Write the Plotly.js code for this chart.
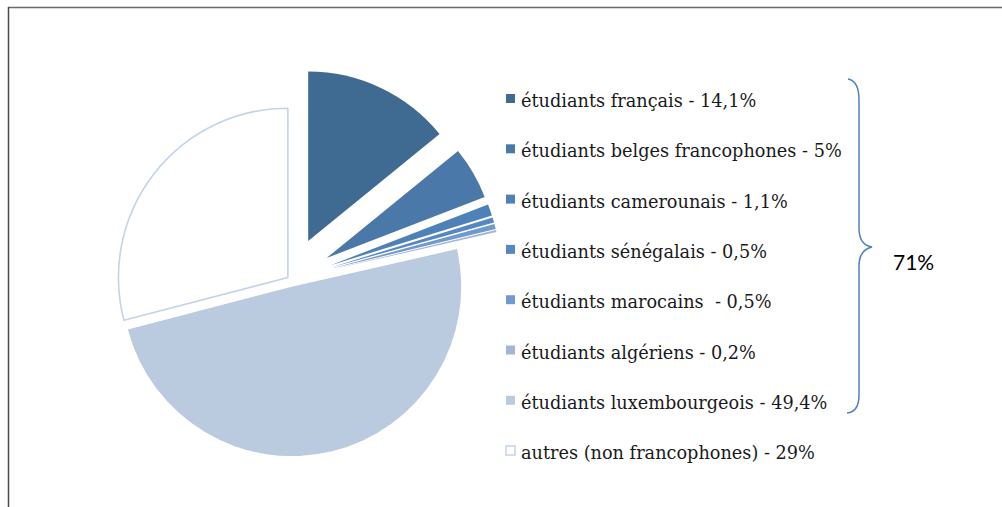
<!DOCTYPE html>
<html>
<head>
<meta charset="utf-8">
<script src="https://cdn.plot.ly/plotly-3.0.1.min.js"></script>
<style>html,body{margin:0;padding:0;background:#fff;}#chart{width:1002px;height:507px;}</style>
</head>
<body>
<div id="chart"></div>
<script>
// ---- data ----
const labels = [
  "étudiants français - 14,1%",
  "étudiants belges francophones - 5%",
  "étudiants camerounais - 1,1%",
  "étudiants sénégalais - 0,5%",
  "étudiants marocains  - 0,5%",
  "étudiants algériens - 0,2%",
  "étudiants luxembourgeois - 49,4%",
  "autres (non francophones) - 29%"
];
const values = [14.1, 5, 1.1, 0.5, 0.5, 0.2, 49.4, 29];
const colors = ["#3F6A92", "#4A78A8", "#4E81B8", "#5587C3", "#7199CD", "#A3B4D6", "#BACADF", "#FFFFFF"];
const pulls = [0.25, 0.25, 0.25, 0.25, 0.25, 0.25, 0.045, 0.016];
const braceLabel = "71%";

// ---- layout helpers ----
const W = 1002, H = 507;
const px = x => x / W;
const py = y => 1 - y / H;

const lineWidths = values.map((v, i) => colors[i] === "#FFFFFF" ? 1.6 : 0);
const lineColors = values.map((v, i) => colors[i] === "#FFFFFF" ? "#C3D3E8" : "rgba(0,0,0,0)");

const trace = {
  type: "pie",
  labels: labels,
  values: values,
  sort: false,
  direction: "clockwise",
  rotation: 0,
  pull: pulls,
  marker: { colors: colors, line: { width: lineWidths, color: lineColors } },
  textinfo: "none",
  hoverinfo: "label",
  showlegend: false,
  domain: { x: [px(77.5), px(502.5)], y: [py(491), py(67.5)] }
};

const annotations = [];
const shapes = [];
const rowY0 = 101, rowStep = 50.3;
labels.forEach((lab, i) => {
  const yc = rowY0 + i * rowStep;
  annotations.push({
    xref: "paper", yref: "paper", x: px(519), y: py(yc),
    xanchor: "left", yanchor: "middle", showarrow: false,
    text: lab, font: { family: "DejaVu Serif, serif", size: 17.7, color: "#1a1a1a" }
  });
  shapes.push({
    type: "rect", xref: "paper", yref: "paper",
    x0: px(506), x1: px(515), y0: py(yc - 7), y1: py(yc + 2),
    fillcolor: colors[i],
    line: { width: colors[i] === "#FFFFFF" ? 1.5 : 0, color: "#C3D3E8" }
  });
});

annotations.push({
  xref: "paper", yref: "paper", x: px(891), y: py(261),
  xanchor: "left", yanchor: "middle", showarrow: false,
  text: braceLabel, font: { family: "Lato, sans-serif", size: 21, color: "#000" }
});

// frame lines (top and left)
shapes.push({ type: "line", xref: "paper", yref: "paper", x0: px(8), x1: 1, y0: py(7.5), y1: py(7.5), line: { color: "#6a6a6a", width: 1.5 } });
shapes.push({ type: "line", xref: "paper", yref: "paper", x0: px(8.5), x1: px(8.5), y0: py(7), y1: 0, line: { color: "#4a4a4a", width: 1.5 } });

const layout = {
  width: W, height: H,
  margin: { l: 0, r: 0, t: 0, b: 0 },
  paper_bgcolor: "#fff",
  plot_bgcolor: "#fff",
  showlegend: false,
  xaxis: { visible: false, range: [0, W], fixedrange: true },
  yaxis: { visible: false, range: [H, 0], fixedrange: true },
  annotations: annotations,
  shapes: shapes
};

// curly brace drawn in pixel-like data coordinates of hidden axes
const bracePath = "M 848 79 Q 859 81 859 100 L 859 228 Q 859 245 872 247 Q 859 250 859 266 L 859 395 Q 859 412 847 413";
layout.shapes.push({ type: "path", xref: "x", yref: "y", path: bracePath, line: { color: "#4F81BD", width: 1.5 } });

Plotly.newPlot("chart", [trace, { type: "scatter", x: [], y: [], showlegend: false, hoverinfo: "skip" }], layout, { displayModeBar: false, staticPlot: true });
</script>
</body>
</html>
